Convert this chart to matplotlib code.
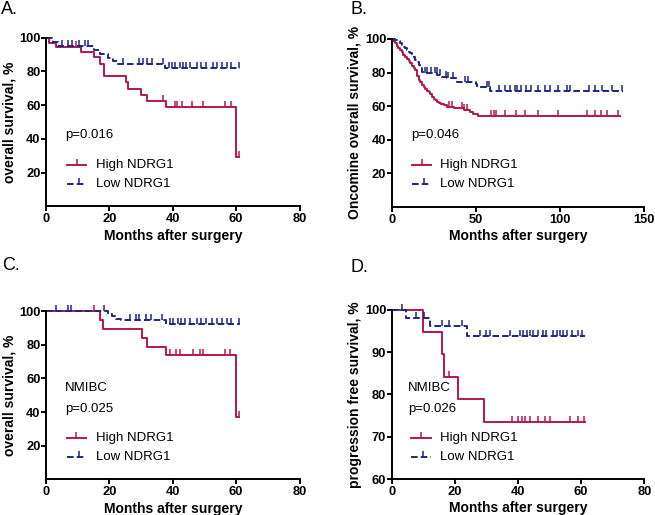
import numpy as np
import matplotlib
matplotlib.use('Agg')
import matplotlib.pyplot as plt
from matplotlib.lines import Line2D

plt.rcParams['font.family'] = ['Liberation Sans', 'DejaVu Sans']

RED = '#B5174E'
BLUE = '#1F2585'

# ---------------- Panel A ----------------
a_high_t = [0, 1, 3, 11, 15, 17, 18.2, 25.2, 26, 30, 31.8, 37.9, 60, 61]
a_high_s = [100, 97.1, 94.5, 91.6, 88.4, 84.6, 77.3, 73.7, 69.6, 66.0, 62.5, 58.7, 29.4, 29.4]
a_high_c = [9.5, 37, 40.7, 41.4, 42.8, 46, 49.5, 56.5, 58.5, 61]
a_low_t = [0, 2.2, 3.8, 15, 17, 19.6, 21, 22.8, 37.7, 61.2]
a_low_s = [100, 97.5, 95, 92.8, 90.2, 87.8, 86.2, 84.2, 81.8, 81.8]
a_low_c = [5, 7, 8.2, 10.5, 12.3, 13.3, 24.3, 29.5, 30.5, 32, 33.5, 37, 38.8, 39.8,
           40.8, 42.2, 43.2, 44.2, 45.6, 47.6, 49, 50.6, 52.8, 54, 55.6, 57, 58.3, 60.8]

# ---------------- Panel B ----------------
b_high_t = [0, 1, 2, 3, 4, 5, 6, 7, 8, 9, 10, 11, 12, 13, 14, 15, 16, 17, 18, 19, 20,
            21, 22, 23, 24, 25, 26, 27, 28, 29, 31, 33, 37, 43, 46.5, 48, 51.5, 135.6]
b_high_s = [100, 98.7, 97.4, 96, 94.7, 93.4, 92, 90.7, 89.4, 88, 86.7, 85.4, 84, 82.7,
            81.4, 78, 75.6, 74.2, 72.8, 71.5, 70.2, 69.3, 68.3, 67, 65.7, 64.4, 63.4,
            62.7, 62, 61.4, 60.6, 59.7, 58.8, 57.8, 56.7, 55.5, 54.1, 54.1]
b_high_c = [34, 36, 41.5, 43, 44.5, 59, 60.5, 62, 67, 74, 79, 87, 99, 116, 121, 124, 128, 134.5]
b_low_t = [0, 2, 3, 5, 6, 7, 8, 9, 10, 11, 12, 13, 14, 15, 16, 17, 18, 19, 27, 30, 33,
           38.6, 50, 50.5, 58.4, 137.5]
b_low_s = [100, 99.3, 98.7, 97.4, 96.4, 95.4, 94.4, 93.4, 92.4, 91.4, 90.3, 89, 87.5,
           86, 84.5, 82.5, 80.5, 79.6, 78.6, 77.6, 76.6, 74.6, 73, 71.6, 69.2, 69.2]
b_low_c = [20, 21, 23.5, 25.5, 26.7, 28.5, 32, 33.5, 36.6, 43.5, 45.5, 56.4, 57.5, 64, 67,
           70, 73, 74.5, 77, 80, 83, 87, 91, 94, 99, 104, 106, 117, 121, 125, 131, 136.5]

# ---------------- Panel C ----------------
c_high_t = [0, 17, 18.1, 30.2, 31.8, 37.9, 59.9, 61]
c_high_s = [100, 94.7, 89.5, 84.2, 78.9, 73.7, 36.8, 36.8]
c_high_c = [15.2, 39.1, 41, 42.3, 46.5, 48.6, 49.6, 56.5, 58, 60.9]
c_low_t = [0, 19.5, 20.7, 22, 23.8, 37.8, 61.2]
c_low_s = [100, 98.5, 97, 95.5, 94.4, 92.1, 92.1]
c_low_c = [3, 7, 8, 18.3, 26.5, 28.5, 29.5, 31.5, 33, 36.5, 39, 40, 41.5, 42.5, 44, 45.5,
           47.5, 49, 50.5, 52.5, 54, 55.5, 57, 58.5, 60.8]

# ---------------- Panel D ----------------
d_high_t = [0, 10, 15.8, 16.6, 21.1, 29.2, 61.2]
d_high_s = [100, 94.7, 89.5, 84.2, 78.9, 73.4, 73.4]
d_high_c = [18, 38, 40.1, 41.2, 42.2, 43.8, 46.4, 48.5, 50.1, 56.5, 59.1, 61]
d_low_t = [0, 4.5, 12, 23.8, 61.2]
d_low_s = [100, 98.2, 96.1, 93.9, 93.9]
d_low_c = [3.4, 7.6, 10.3, 15.8, 18.2, 22.2, 28, 30, 31, 37.5, 40.6, 41.7, 42.7, 43.8,
           44.8, 46.4, 48, 49, 51.2, 52.2, 53.3, 54.3, 55.4, 57, 59.1, 60.2]

panel_letters = ['A.', 'B.', 'C.', 'D.']
ylabels = ['overall survival, %', 'Oncomine overall survival, %',
           'overall survival, %', 'progression free survival, %']
xlabel = 'Months after surgery'
pvals = ['p=0.016', 'p=0.046', 'p=0.025', 'p=0.026']
legend_labels = ['High NDRG1', 'Low NDRG1']

DASH = (0, (3.4, 1.6))
LW = 1.4
MS = 4.5

fig = plt.figure(figsize=(6.55, 5.15), dpi=100)
W, H = 655.0, 515.0


def add_axes(left, top, right, bottom):
    return fig.add_axes([left / W, 1 - bottom / H, (right - left) / W, (bottom - top) / H])


axA = add_axes(46, 37.7, 299.5, 206.4)
axB = add_axes(391.7, 39, 644.3, 206.8)
axC = add_axes(46, 311, 299.5, 479.4)
axD = add_axes(391.7, 310, 644.3, 479)


def km(ax, t, s, c, color, dashed):
    ls = DASH if dashed else '-'
    ax.step(t, s, where='post', color=color, lw=LW, ls=ls, clip_on=False)
    t = np.asarray(t, float)
    s = np.asarray(s, float)
    cy = s[np.searchsorted(t, c, side='right') - 1]
    ax.plot(c, cy, ls='none', marker=2, ms=MS, mew=1.1, color=color, clip_on=False)


def style(ax, xlim, xticks, ylim, yticks, ylabel):
    ax.set_xlim(*xlim)
    ax.set_ylim(*ylim)
    ax.set_xticks(xticks)
    ax.set_yticks(yticks)
    for sp in ['top', 'right']:
        ax.spines[sp].set_visible(False)
    for sp in ['left', 'bottom']:
        ax.spines[sp].set_linewidth(1.4)
    ax.tick_params(direction='out', length=3.5, width=1.4, labelsize=9.3)
    ax.tick_params(axis='x', pad=1.5)
    ax.tick_params(axis='y', pad=0.5)
    for lab in ax.get_xticklabels() + ax.get_yticklabels():
        lab.set_fontweight('bold')
    ax.set_xlabel(xlabel, fontweight='bold', fontsize=10, labelpad=2.5)
    ax.set_ylabel(ylabel, fontweight='bold', fontsize=10, labelpad=2)


def legend(ax, yh, yl, x0, x1, xt):
    xm = x0 + (x1 - x0) * 0.5
    ax.add_line(Line2D([x0, xm, x1], [yh, yh, yh], transform=ax.transAxes, color=RED,
                       lw=LW, marker=2, ms=MS, mew=1.1, markevery=[1]))
    xm2 = x0 + (x1 - x0) * 0.62
    ax.add_line(Line2D([x0, xm2, x1], [yl, yl, yl], transform=ax.transAxes, color=BLUE,
                       lw=LW, ls=DASH, marker=2, ms=MS, mew=1.1, markevery=[1]))
    ax.text(xt, yh, legend_labels[0], transform=ax.transAxes, va='center', fontsize=9.5)
    ax.text(xt, yl, legend_labels[1], transform=ax.transAxes, va='center', fontsize=9.5)


# Panel A
km(axA, a_high_t, a_high_s, a_high_c, RED, False)
km(axA, a_low_t, a_low_s, a_low_c, BLUE, True)
style(axA, (0, 80), [0, 20, 40, 60, 80], (0, 100), [20, 40, 60, 80, 100], ylabels[0])
axA.text(0.075, 0.423, pvals[0], transform=axA.transAxes, va='center', fontsize=9.5)
legend(axA, 0.245, 0.132, 0.083, 0.158, 0.197)

# Panel B
km(axB, b_high_t, b_high_s, b_high_c, RED, False)
km(axB, b_low_t, b_low_s, b_low_c, BLUE, True)
style(axB, (0, 150), [0, 50, 100, 150], (0, 100), [20, 40, 60, 80, 100], ylabels[1])
axB.text(0.076, 0.428, pvals[1], transform=axB.transAxes, va='center', fontsize=9.5)
legend(axB, 0.251, 0.134, 0.082, 0.156, 0.191)

# Panel C
km(axC, c_high_t, c_high_s, c_high_c, RED, False)
km(axC, c_low_t, c_low_s, c_low_c, BLUE, True)
style(axC, (0, 80), [0, 20, 40, 60, 80], (0, 100), [20, 40, 60, 80, 100], ylabels[2])
axC.text(0.075, 0.541, 'NMIBC', transform=axC.transAxes, va='center', fontsize=9.5)
axC.text(0.075, 0.418, pvals[2], transform=axC.transAxes, va='center', fontsize=9.5)
legend(axC, 0.248, 0.135, 0.082, 0.158, 0.196)

# Panel D
km(axD, d_high_t, d_high_s, d_high_c, RED, False)
km(axD, d_low_t, d_low_s, d_low_c, BLUE, True)
style(axD, (0, 80), [0, 20, 40, 60, 80], (60, 100), [60, 70, 80, 90, 100], ylabels[3])
axD.text(0.066, 0.538, 'NMIBC', transform=axD.transAxes, va='center', fontsize=9.5)
axD.text(0.066, 0.414, pvals[3], transform=axD.transAxes, va='center', fontsize=9.5)
legend(axD, 0.244, 0.132, 0.076, 0.156, 0.191)

# Panel letters
for lab, (x, y) in zip(panel_letters, [(1, 10), (351, 10), (2, 265), (351, 267)]):
    fig.text(x / W, 1 - y / H, lab, fontsize=13, va='center', ha='left')

fig.savefig('out.png', dpi=100)
